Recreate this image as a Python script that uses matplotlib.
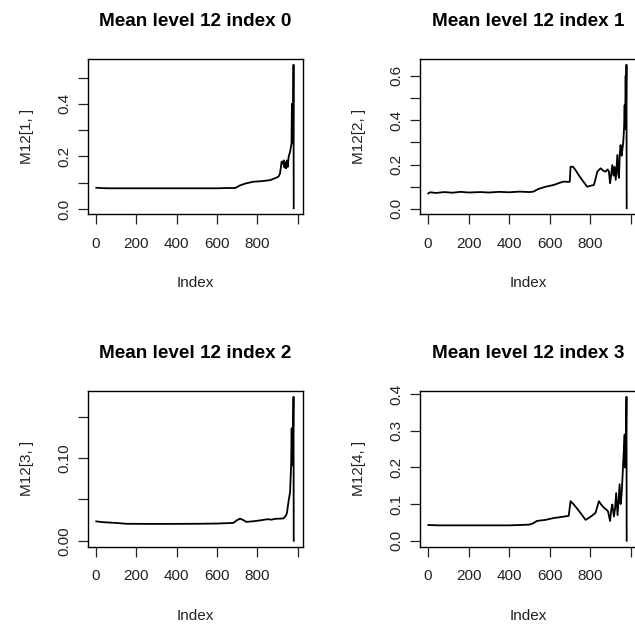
import matplotlib
matplotlib.use("Agg")
import matplotlib.pyplot as plt

plt.rcParams['font.family'] = ['Liberation Sans', 'DejaVu Sans']

# values (index, mean value)
idx0 = [1, 20, 60, 300, 600, 650, 690, 714, 740, 780, 820, 863, 890, 904, 912, 920, 926, 930, 934,
        938, 942, 946, 950, 955, 962, 967, 969, 971, 972, 973, 974, 975, 976, 977, 979, 980]
val0 = [0.081, 0.080, 0.079, 0.079, 0.079, 0.080, 0.080, 0.090, 0.097, 0.104, 0.106, 0.110, 0.118,
        0.123, 0.135, 0.180, 0.172, 0.185, 0.158, 0.178, 0.155, 0.185, 0.160, 0.200, 0.218, 0.240,
        0.250, 0.400, 0.260, 0.395, 0.270, 0.370, 0.380, 0.250, 0.549, 0.003]

idx1 = [1, 10, 40, 80, 120, 160, 200, 260, 300, 350, 400, 450, 500, 520, 540, 554, 580, 620, 650,
        669, 699, 703, 715, 727, 745, 760, 785, 800, 818, 825, 835, 851, 865, 876, 885, 892, 898,
        903, 909, 915, 920, 926, 934, 938, 942, 946, 950, 955, 959, 963, 967, 970, 972, 975, 977,
        979, 980]
val1 = [0.070, 0.075, 0.072, 0.076, 0.073, 0.077, 0.074, 0.076, 0.074, 0.077, 0.075, 0.078, 0.076,
        0.078, 0.088, 0.093, 0.100, 0.108, 0.118, 0.123, 0.122, 0.190, 0.190, 0.176, 0.150, 0.131,
        0.100, 0.104, 0.108, 0.130, 0.168, 0.183, 0.172, 0.168, 0.178, 0.170, 0.116, 0.150, 0.198,
        0.150, 0.190, 0.131, 0.243, 0.160, 0.140, 0.250, 0.288, 0.240, 0.270, 0.300, 0.363, 0.468,
        0.360, 0.600, 0.450, 0.650, 0.003]

idx2 = [1, 30, 100, 150, 300, 500, 600, 680, 700, 714, 730, 745, 780, 813, 850, 870, 890, 912, 929,
        940, 946, 954, 962, 967, 970, 972, 974, 976, 977, 979, 980]
val2 = [0.0234, 0.0225, 0.0215, 0.0205, 0.0203, 0.0205, 0.0208, 0.0215, 0.0250, 0.0267, 0.0250,
        0.0228, 0.0235, 0.0246, 0.0260, 0.0255, 0.0265, 0.0267, 0.0270, 0.0300, 0.0330, 0.0470,
        0.0590, 0.0910, 0.1360, 0.0910, 0.1320, 0.0920, 0.1300, 0.1740, 0.0000]

idx3 = [1, 50, 200, 400, 455, 500, 520, 537, 580, 620, 660, 694, 703, 719, 735, 752, 777, 795, 810,
        826, 843, 855, 868, 880, 888, 898, 904, 909, 917, 923, 928, 935, 940, 945, 950, 955, 960,
        965, 970, 972, 974, 976, 979, 980]
val3 = [0.043, 0.042, 0.042, 0.042, 0.043, 0.044, 0.048, 0.054, 0.057, 0.062, 0.065, 0.068, 0.108,
        0.099, 0.088, 0.076, 0.057, 0.063, 0.069, 0.076, 0.108, 0.098, 0.090, 0.085, 0.080, 0.054,
        0.085, 0.099, 0.066, 0.090, 0.130, 0.070, 0.110, 0.154, 0.100, 0.126, 0.180, 0.237, 0.290,
        0.200, 0.280, 0.230, 0.393, 0.000]

titles = ["Mean level 12 index 0", "Mean level 12 index 1",
          "Mean level 12 index 2", "Mean level 12 index 3"]
ylabels = ["M12[1, ]", "M12[2, ]", "M12[3, ]", "M12[4, ]"]
xticks = [0, 200, 400, 600, 800, 1000]
xticklabels = ["0", "200", "400", "600", "800", ""]
yticks = [[0.0, 0.1, 0.2, 0.3, 0.4, 0.5],
          [0.0, 0.1, 0.2, 0.3, 0.4, 0.5, 0.6],
          [0.00, 0.05, 0.10, 0.15],
          [0.0, 0.1, 0.2, 0.3, 0.4]]
yticklabels = [["0.0", "", "0.2", "", "0.4", ""],
               ["0.0", "", "0.2", "", "0.4", "", "0.6"],
               ["0.00", "", "0.10", ""],
               ["0.0", "0.1", "0.2", "0.3", "0.4"]]

W, H = 635, 626
fig = plt.figure(figsize=(W / 100, H / 100), dpi=100)

# box positions in pixels: left, top, width, height
boxes = [(88, 59, 215, 155), (420, 59, 216, 155),
         (88, 391, 215, 155.5), (420, 391, 216, 155.5)]
series = [(idx0, val0), (idx1, val1), (idx2, val2), (idx3, val3)]

for i in range(4):
    l, t, w, h = boxes[i]
    ax = fig.add_axes([l / W, 1 - (t + h) / H, w / W, h / H])
    x, y = series[i]
    ax.plot(x, y, color='black', linewidth=1.3)
    ymin, ymax = min(y), max(y)
    d = ymax - ymin
    ax.set_ylim(ymin - 0.04 * d, ymax + 0.04 * d)
    ax.set_xlim(-40, 1026)
    ax.set_xticks(xticks)
    ax.set_xticklabels(xticklabels)
    ax.set_yticks(yticks[i])
    ax.set_yticklabels(yticklabels[i], rotation=90, va='center')
    ax.tick_params(axis='both', direction='out', length=7.2, width=0.9, labelsize=11, colors='#222222')
    ax.tick_params(axis='x', pad=9)
    ax.tick_params(axis='y', pad=5)
    for s in ax.spines.values():
        s.set_linewidth(1.0)
    ax.text(0.5, 1 + 37 / h, titles[i], transform=ax.transAxes, ha='center', va='center',
            fontsize=13.6, fontweight='bold')
    ax.text(0.5, -69 / h, "Index", transform=ax.transAxes, ha='center', va='center',
            fontsize=11, color='#222222')
    ax.text(-61.3 / w, 0.5, ylabels[i], transform=ax.transAxes, ha='center', va='center',
            rotation=90, fontsize=11, color='#222222')

plt.savefig('out.png', dpi=100)
